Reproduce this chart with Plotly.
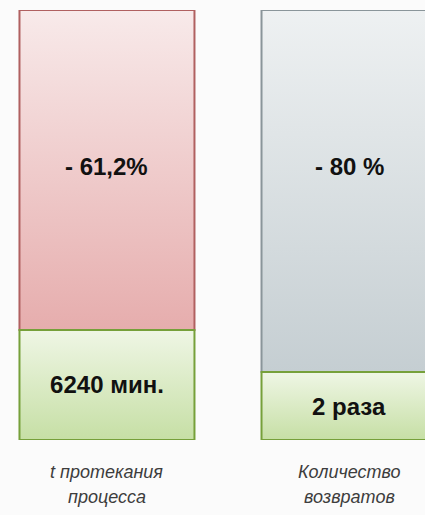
import plotly.graph_objects as go

# ---- data ----
cat_line1 = ["t протекания", "Количество"]
cat_line2 = ["процесса", "возвратов"]
after_share = [25.6, 15.8]        # remaining part (green segment), % of bar height
reduction_share = [74.4, 84.2]    # reduction part (top segment), % of bar height
top_labels = ["- 61,2%", "- 80 %"]
bottom_labels = ["6240 мин.", "2 раза"]

# ---- styles ----
BAR_W = 0.723
top_fill = [["#e6adad", "#f8eaea"], ["#c5ced2", "#eef1f2"]]
top_line = ["#b06060", "#8a959a"]
green_fill = ["#c6dfa5", "#eff6e5"]
green_line = "#76a03a"
FONT = "Liberation Sans, Arial"

xs = list(range(len(cat_line1)))
fig = go.Figure()

# gradient fills (base subplot)
for i in xs:
    x0, x1 = i - BAR_W / 2, i + BAR_W / 2
    yb, yt = 0, after_share[i]
    fig.add_trace(go.Scatter(
        x=[x0, x1, x1, x0, x0], y=[yb, yb, yt, yt, yb], mode="lines",
        fill="toself", line=dict(width=0),
        fillgradient=dict(type="vertical", start=yb, stop=yt,
                          colorscale=[[0, green_fill[0]], [1, green_fill[1]]]),
        hoverinfo="skip", showlegend=False))
    yb2, yt2 = after_share[i], after_share[i] + reduction_share[i]
    fig.add_trace(go.Scatter(
        x=[x0, x1, x1, x0, x0], y=[yb2, yb2, yt2, yt2, yb2], mode="lines",
        fill="toself", line=dict(width=0),
        fillgradient=dict(type="vertical", start=yb2, stop=yt2,
                          colorscale=[[0, top_fill[i][0]], [1, top_fill[i][1]]]),
        hoverinfo="skip", showlegend=False))

# bars (overlay subplot): outlines and labels
fig.add_trace(go.Bar(
    x=xs, y=reduction_share, base=after_share, width=BAR_W,
    marker=dict(color="rgba(0,0,0,0)", line=dict(color=top_line, width=2)),
    xaxis="x2", yaxis="y2", showlegend=False, hoverinfo="skip"))
fig.add_trace(go.Bar(
    x=xs, y=after_share, width=BAR_W,
    marker=dict(color="rgba(0,0,0,0)", line=dict(color=green_line, width=2)),
    text=bottom_labels, textposition="inside", insidetextanchor="middle",
    textfont=dict(family=FONT, size=24, color="#111111", weight="bold"),
    xaxis="x2", yaxis="y2", showlegend=False, hoverinfo="skip"))

annotations = []
for i in xs:
    annotations.append(dict(x=i, y=63.7, xref="x2", yref="y2", text=top_labels[i],
                            showarrow=False, font=dict(family=FONT, size=24, color="#111111", weight="bold")))
    annotations.append(dict(x=i, y=-0.0744, xref="x", yref="paper", text=cat_line1[i],
                            showarrow=False, yanchor="middle",
                            font=dict(family=FONT, size=18, color="#3d3d3d", style="italic")))
    annotations.append(dict(x=i, y=-0.1326, xref="x", yref="paper", text=cat_line2[i],
                            showarrow=False, yanchor="middle",
                            font=dict(family=FONT, size=18, color="#3d3d3d", style="italic")))

XR = [-0.442, 1.314]
ax = dict(range=XR, visible=False, fixedrange=True)
ay = dict(range=[0, 100], visible=False, fixedrange=True)
fig.update_layout(
    width=425, height=515, margin=dict(l=0, r=0, t=10, b=75),
    paper_bgcolor="#fbfbfb", plot_bgcolor="rgba(0,0,0,0)",
    barmode="overlay", uniformtext=dict(mode=False),
    xaxis=ax, yaxis=ay,
    xaxis2=dict(ax, overlaying="x"), yaxis2=dict(ay, overlaying="y"),
    annotations=annotations,
)
fig.write_html("out.html", config={"displayModeBar": False},
               post_script="document.body.style.margin='0';document.body.style.overflow='hidden';")
